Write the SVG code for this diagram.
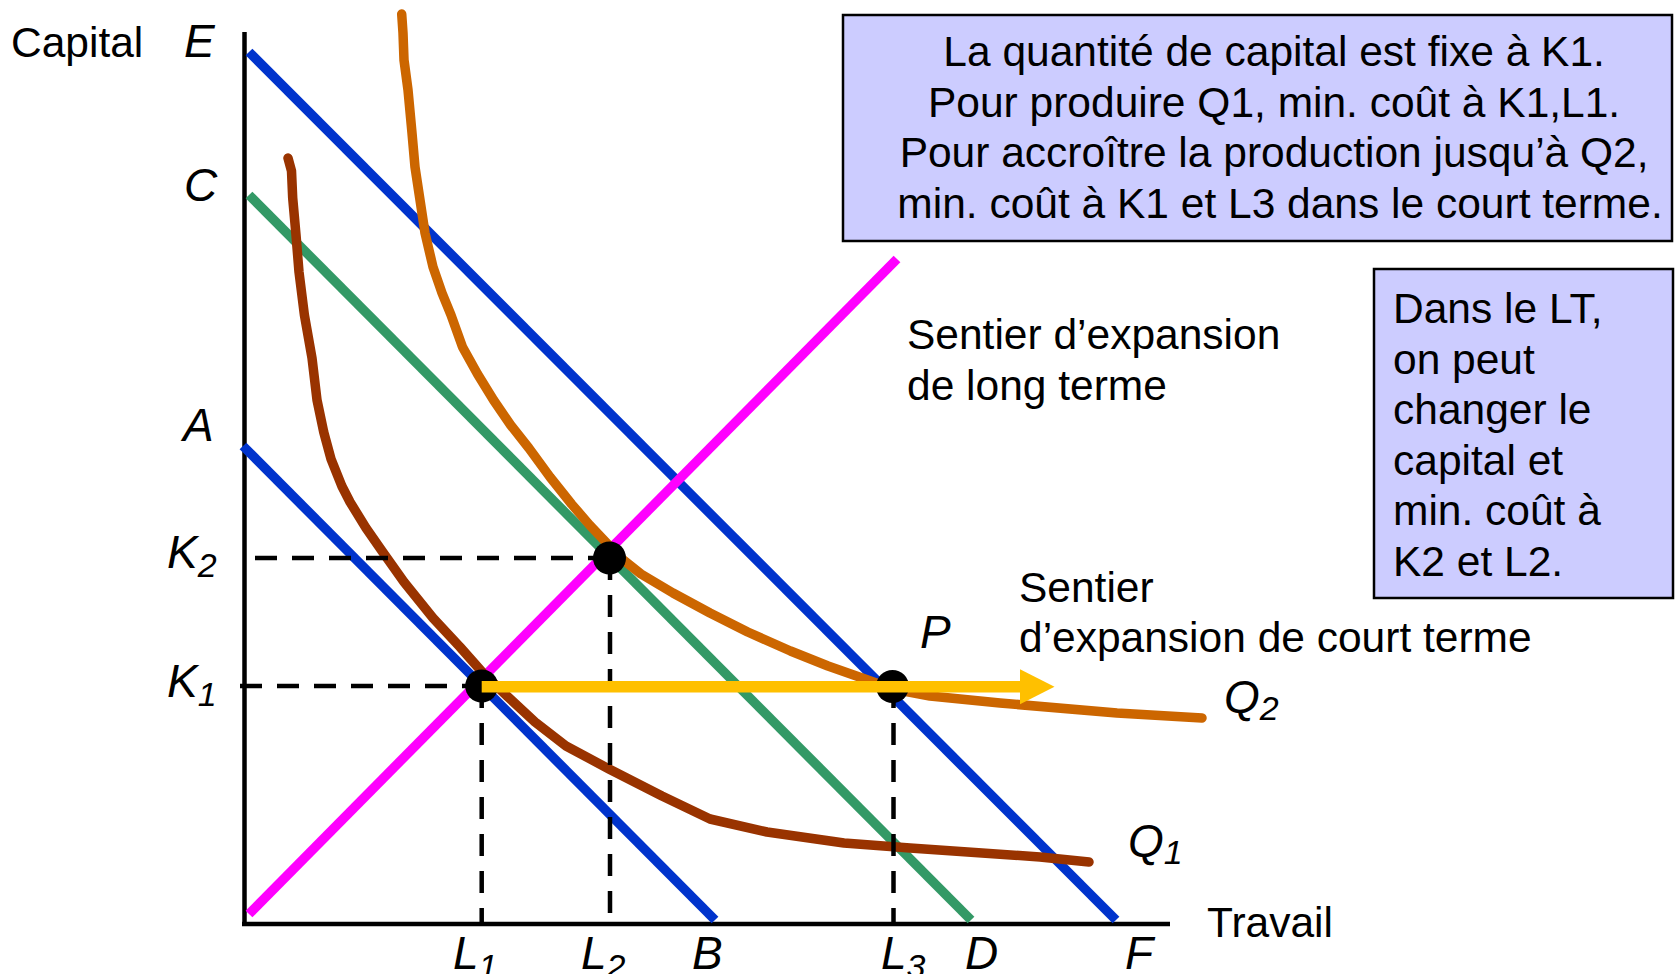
<svg xmlns="http://www.w3.org/2000/svg" width="1675" height="974" viewBox="0 0 1675 974">
<style>
  .txt { font-family: "Liberation Sans", Arial, sans-serif; fill: #000; }
  .box { font-size: 42.5px; }
  .lbl { font-family: "Liberation Sans", Arial, sans-serif; font-style: italic; font-size: 46px; fill: #000; }
  .sub { font-size: 34px; }
  .budget { fill: none; stroke-width: 9.5; stroke-linecap: butt; }
  .curve { fill: none; stroke-width: 9.5; stroke-linecap: round; stroke-linejoin: round; }
  .dash { fill: none; stroke: #000; stroke-width: 4.5; stroke-dasharray: 22 15; }
  .dot { fill: #000; }
  .panel { fill: #CCCCFF; stroke: #000; stroke-width: 2.5; }
</style>

<g id="axes">
  <line x1="244.5" y1="32" x2="244.5" y2="926" stroke="#000" stroke-width="4.5"/>
  <line x1="242" y1="924" x2="1170" y2="924" stroke="#000" stroke-width="4.5"/>
  <text class="txt" x="11" y="57" font-size="42.5">Capital</text>
  <text class="txt" x="1207" y="937" font-size="42.5">Travail</text>
</g>

<g id="connectors">
  <line id="isocost-CD" class="budget" stroke="#339966" x1="249" y1="195" x2="971" y2="920"/>
  <line id="isocost-AB" class="budget" stroke="#0033CC" x1="243" y1="446" x2="715" y2="920"/>
  <line id="isocost-EF" class="budget" stroke="#0033CC" x1="249" y1="52" x2="1116" y2="920"/>
  <line id="lt-path" class="budget" stroke="#FF00FF" x1="249" y1="914" x2="897" y2="259"/>
  <path id="Q1-curve" class="curve" stroke="#993300" d="M288,158 L291.5,171 L292.7,198 L296,235 L299,272 L304.4,315 L312,358 L317,400 L323.7,432 L331,459 L341.8,486 L350,502 L366,528 L382,551 L404,582 L433,618 L460,647 L483,673 L507,696 L535,722 L566,746 L609,769 L662,796 L710,819 L767,832 L844,843 L910,848 L982,853 L1040,857 L1089,862"/>
  <path id="Q2-curve" class="curve" stroke="#CC6600" d="M401.7,14 L403,33 L404,60 L408,90 L412,133 L415,167 L420,200 L425,233 L433,267 L442,293 L451,315 L462.5,347 L477.5,374 L493.5,400 L510.6,425 L528.8,448 L550,477 L571.5,504 L589.6,525 L605.7,542 L619.6,557 L641,574 L673,593 L710,613 L747.7,632 L790.5,651 L828,666 L865,679 L893,689 L930,696 L1000,703 L1117,713 L1202,718"/>
  <line id="K2-dash" class="dash" x1="255" y1="558" x2="609" y2="558"/>
  <line id="K1-dash" class="dash" x1="240" y1="686" x2="481" y2="686"/>
  <line id="L1-dash" class="dash" x1="481.7" y1="686" x2="481.7" y2="922"/>
  <line id="L2-dash" class="dash" x1="610" y1="558" x2="610" y2="922"/>
  <line id="L3-dash" class="dash" x1="893.5" y1="686" x2="893.5" y2="922"/>
</g>

<g id="point-K1L1"><circle class="dot" cx="481.7" cy="686" r="16.5"/></g>
<g id="point-K2L2"><circle class="dot" cx="609.5" cy="558" r="16.5"/></g>
<g id="point-P"><circle class="dot" cx="892.5" cy="686.5" r="16.5"/></g>

<g id="st-arrow">
  <line x1="481.7" y1="686.8" x2="1022" y2="686.8" stroke="#FFC000" stroke-width="11.5"/>
  <polygon points="1020,669.3 1054.5,686.8 1020,704.3" fill="#FFC000"/>
</g>

<g id="axis-labels">
  <text class="lbl" x="184" y="57">E</text>
  <text class="lbl" x="184" y="201">C</text>
  <text class="lbl" x="183" y="441">A</text>
  <text class="lbl" x="167" y="568">K<tspan class="sub" dy="9">2</tspan></text>
  <text class="lbl" x="167" y="697">K<tspan class="sub" dy="9">1</tspan></text>
  <text class="lbl" x="453" y="969">L<tspan class="sub" dy="9">1</tspan></text>
  <text class="lbl" x="581" y="969">L<tspan class="sub" dy="9">2</tspan></text>
  <text class="lbl" x="692" y="969">B</text>
  <text class="lbl" x="881" y="969">L<tspan class="sub" dy="9">3</tspan></text>
  <text class="lbl" x="965" y="969">D</text>
  <text class="lbl" x="1125" y="969">F</text>
  <text class="lbl" x="920" y="648">P</text>
  <text class="lbl" x="1128" y="857">Q<tspan class="sub" dy="7">1</tspan></text>
  <text class="lbl" x="1224" y="713">Q<tspan class="sub" dy="7">2</tspan></text>
</g>

<g id="lt-label">
  <text class="txt box" x="907" y="349">Sentier d’expansion</text>
  <text class="txt box" x="907" y="400">de long terme</text>
</g>

<g id="st-label">
  <text class="txt box" x="1019" y="602">Sentier</text>
  <text class="txt box" x="1019" y="652">d’expansion de court terme</text>
</g>

<g id="note-short-run">
  <rect class="panel" x="843" y="15" width="829" height="226"/>
  <text class="txt box" text-anchor="middle">
    <tspan x="1280" y="66">La quantité de capital est fixe à K1.</tspan>
    <tspan x="1280" y="116.5">Pour produire Q1, min. coût à K1,L1.</tspan>
    <tspan x="1280" y="167">Pour accroître la production jusqu’à Q2,</tspan>
    <tspan x="1280" y="217.5">min. coût à K1 et L3 dans le court terme.</tspan>
  </text>
</g>

<g id="note-long-run">
  <rect class="panel" x="1374" y="269" width="299" height="329"/>
  <text class="txt box">
    <tspan x="1393" y="323">Dans le LT,</tspan>
    <tspan x="1393" y="373.5">on peut</tspan>
    <tspan x="1393" y="424">changer le</tspan>
    <tspan x="1393" y="474.5">capital et</tspan>
    <tspan x="1393" y="525">min. coût à</tspan>
    <tspan x="1393" y="575.5">K2 et L2.</tspan>
  </text>
</g>
</svg>
